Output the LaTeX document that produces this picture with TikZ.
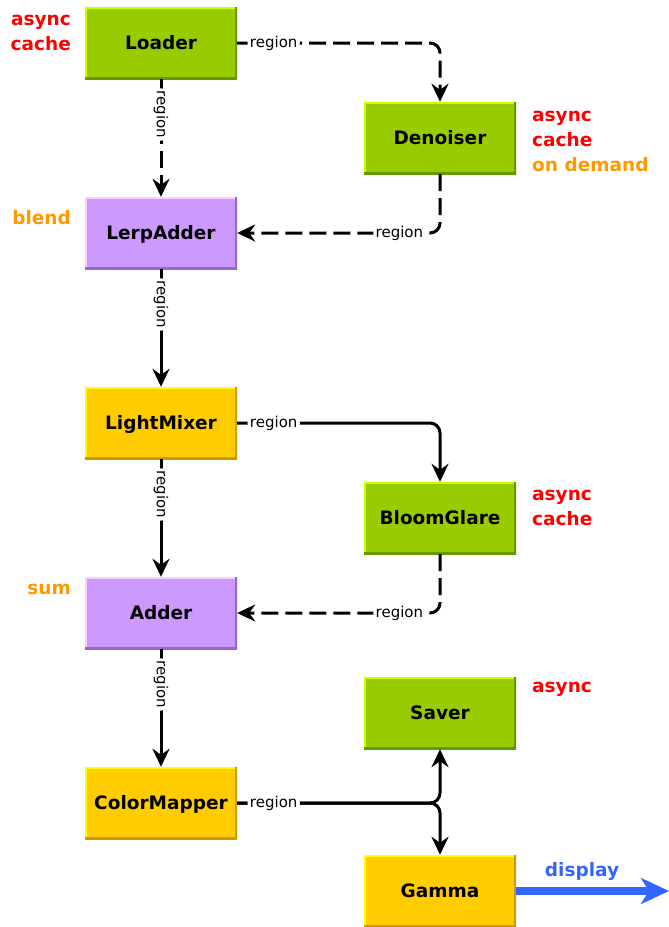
\documentclass[tikz,border=0pt]{standalone}
\usepackage{fontspec}
\setmainfont{DejaVu Sans}
\usetikzlibrary{arrows.meta}
\usepackage{xcolor}

\definecolor{grfill}{HTML}{99CC00}
\definecolor{grlight}{HTML}{CCFF00}
\definecolor{grdark}{HTML}{669900}
\definecolor{pufill}{HTML}{CC99FF}
\definecolor{pulight}{HTML}{FFCCFF}
\definecolor{pudark}{HTML}{9966CC}
\definecolor{yefill}{HTML}{FFCC00}
\definecolor{yelight}{HTML}{FFFF00}
\definecolor{yedark}{HTML}{CC9900}
\definecolor{tagred}{HTML}{FF0000}
\definecolor{tagorange}{HTML}{FF9900}
\definecolor{tagblue}{HTML}{3366FF}

\tikzset{
	box/.style n args={3}{rectangle, minimum width=152pt, minimum height=72pt,
		inner sep=0pt, fill=#1, font=\fontsize{18.5}{20}\selectfont\bfseries,
		text height=13pt, text depth=0pt,
		path picture={
			\draw[#2, line width=4pt] (path picture bounding box.south west)
				-- (path picture bounding box.north west) -- (path picture bounding box.north east);
			\draw[#3, line width=5pt] (path picture bounding box.north east)
				-- (path picture bounding box.south east) -- (path picture bounding box.south west);
		}},
	greenbox/.style={box={grfill}{grlight}{grdark}},
	purplebox/.style={box={pufill}{pulight}{pudark}},
	yellowbox/.style={box={yefill}{yelight}{yedark}},
	tag/.style={font=\fontsize{18.5}{25}\selectfont\bfseries, inner sep=0pt},
	lbl/.style={fill=white, inner sep=2.5pt, font=\fontsize{15}{17}\selectfont},
	flow/.style={line width=3pt, rounded corners=10pt,
		-{Stealth[length=18pt, width=17pt, inset=6pt]}},
	lazy/.style={flow, dash pattern=on 17pt off 7pt},
	feed/.style={tagblue, line width=8pt,
		-{Stealth[length=28pt, width=26pt, inset=8pt]}}
}

\begin{document}
\begin{tikzpicture}[x=1pt, y=-1pt]
	\useasboundingbox (0,0) rectangle (669,927);

	% stages
	\node[greenbox] (loader) at (161,43) {Loader};
	\node[greenbox] (denoiser) at (440,138) {Denoiser};
	\node[purplebox] (lerp) at (161,233) {LerpAdder};
	\node[yellowbox] (mixer) at (161,423) {LightMixer};
	\node[greenbox] (bloom) at (440,518) {BloomGlare};
	\node[purplebox] (adder) at (161,613) {Adder};
	\node[greenbox] (saver) at (440,713) {Saver};
	\node[yellowbox] (mapper) at (161,803) {ColorMapper};
	\node[yellowbox] (gamma) at (440,891) {Gamma};
	\coordinate (screen) at (669,891);

	% flags
	\node[tag, tagred, anchor=east, align=right] (loadertag) at (71,33) {async\\cache};
	\node[tag, tagred, anchor=west, align=left] (denoisertag) at (532,141)
		{async\\cache\\\textcolor{tagorange}{on demand}};
	\node[tag, tagorange, anchor=east] (lerptag) at (71,218) {blend};
	\node[tag, tagred, anchor=west, align=left] (bloomtag) at (532,508) {async\\cache};
	\node[tag, tagorange, anchor=east] (addertag) at (71,589) {sum};
	\node[tag, tagred, anchor=west] (savertag) at (532,689) {async};
	\node[tag, tagblue] (displaytag) at (582,871) {display};

	% connections
	\draw[lazy] (loader.east) -| node[lbl, pos=0.09] {region} (denoiser.north);
	\draw[lazy] (loader.south) -- node[lbl, rotate=-90, pos=0.3] {region} (lerp.north);
	\draw[lazy] (denoiser.south) |- node[lbl, pos=0.6] {region} (lerp.east);
	\draw[flow] (lerp.south) -- node[lbl, rotate=-90, pos=0.3] {region} (mixer.north);
	\draw[flow] (mixer.east) -| node[lbl, pos=0.09] {region} (bloom.north);
	\draw[flow] (mixer.south) -- node[lbl, rotate=-90, pos=0.3] {region} (adder.north);
	\draw[lazy] (bloom.south) |- node[lbl, pos=0.6] {region} (adder.east);
	\draw[flow] (adder.south) -- node[lbl, rotate=-90, pos=0.3] {region} (mapper.north);
	\draw[flow] (mapper.east) -| (gamma.north);
	\draw[flow] (mapper.east) -| node[lbl, pos=0.09] {region} (saver.south);
	\draw[feed] (gamma.east) -- (screen);
\end{tikzpicture}
\end{document}
